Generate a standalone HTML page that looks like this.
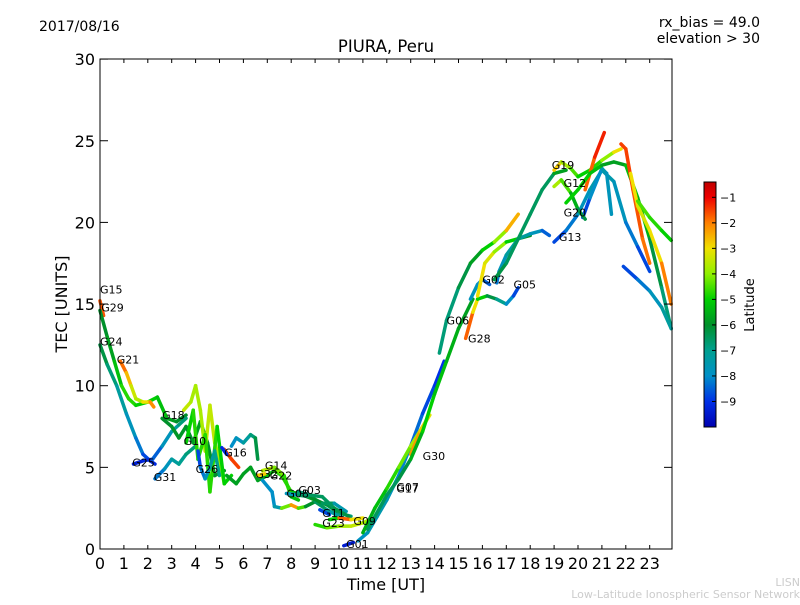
<!DOCTYPE html>
<html><head><meta charset="utf-8"><style>
body{margin:0;background:#fff;width:800px;height:600px;overflow:hidden;font-family:"Liberation Sans","DejaVu Sans",sans-serif}
svg text{font-family:"DejaVu Sans","Liberation Sans",sans-serif}
</style></head><body>
<svg id="c" width="800" height="600">
<defs><linearGradient id="jet" x1="0" y1="1" x2="0" y2="0"></linearGradient></defs>
<text x="39" y="31" font-size="14">2017/08/16</text>
<text x="760" y="27" font-size="14" text-anchor="end">rx_bias = 49.0</text>
<text x="760" y="43" font-size="14" text-anchor="end">elevation &gt; 30</text>
<text x="386" y="52" font-size="16.5" text-anchor="middle">PIURA, Peru</text>
<g id="marks"></g>
<g id="axes"></g>
<text x="386" y="590" font-size="16" text-anchor="middle">Time [UT]</text>
<text transform="translate(67,304) rotate(-90)" font-size="16" text-anchor="middle">TEC [UNITS]</text>
<rect x="704" y="182" width="12" height="245" fill="url(#jet)" stroke="#000" stroke-width="1"/>
<g id="cbt"></g>
<text transform="translate(754,305) rotate(-90)" font-size="13" text-anchor="middle">Latitude</text>
<text x="800" y="586" font-size="11" fill="#ccc" text-anchor="end">LISN</text>
<text x="800" y="598" font-size="11" fill="#ccc" text-anchor="end">Low-Latitude Ionospheric Sensor Network</text>
</svg>
<script>
const xTicks=[0,1,2,3,4,5,6,7,8,9,10,11,12,13,14,15,16,17,18,19,20,21,22,23];
const yTicks=[0,5,10,15,20,25,30];
const cbTicks=[-1,-2,-3,-4,-5,-6,-7,-8,-9];
const tracks=[
[[0,15.2,-1.5],[0.15,14.3,-1.8]],
[[0,14.6,-6],[0.3,13,-6],[0.6,11.5,-5.5],[0.9,10,-5],[1.2,9.2,-4.5],[1.5,8.8,-5],[2,9.0,-5],[2.4,9.3,-5],[2.8,8,-5.5],[3.2,7.8,-6],[3.6,8.2,-6]],
[[0,12.5,-6],[0.3,11.3,-6.5],[0.7,10,-7],[1.1,8.3,-7.5],[1.5,6.8,-8],[1.8,5.8,-8.5],[2.1,5.4,-9],[2.3,5.2,-9.3]],
[[1.4,5.2,-9.5],[1.8,5.4,-9.3],[2.2,5.5,-9],[2.6,6.3,-8],[3,7.2,-7.5],[3.3,7.6,-7],[3.6,8.0,-6.5]],
[[0.85,11.5,-1.5],[1.1,10.8,-2.2],[1.3,10,-3],[1.5,9.2,-3.8],[1.8,9.0,-3.5],[2.1,9.0,-2.5],[2.25,8.7,-1.8]],
[[2.3,4.3,-8.5],[2.7,4.9,-8],[3,5.5,-7.5],[3.3,5.2,-7],[3.6,5.8,-7],[4,6.3,-6.5]],
[[2.6,8.0,-6],[3,7.5,-6],[3.3,6.8,-5.8],[3.6,7.5,-6],[3.9,6.5,-6],[4.2,7.8,-5.5],[4.5,6.5,-6],[4.8,4.5,-6],[5.2,4.8,-6]],
[[3.5,8.5,-3.5],[3.8,9,-3.5],[4,10,-4],[4.2,8.5,-3.5],[4.4,6,-4],[4.6,8.8,-3],[4.8,6.5,-4],[5,5.5,-3.5],[5.2,4,-4.5]],
[[3.6,6.5,-5],[3.9,8.5,-5],[4.1,5.5,-4.5],[4.4,7,-5],[4.6,3.5,-4.5],[4.9,7.5,-5],[5.2,4,-5],[5.5,4.5,-5]],
[[4.1,6.0,-9],[4.2,5,-8.5],[4.4,4.3,-8],[4.6,5,-7.5],[4.8,6,-7],[5,4.5,-7]],
[[5.2,6.1,-1.5],[5.5,5.5,-1.5],[5.8,5.0,-1.5]],
[[5.1,6.2,-9.2],[5.3,5.8,-9]],
[[5.5,6.3,-8],[5.7,6.8,-8],[6,6.5,-7.5],[6.3,7,-7],[6.5,6.8,-6.5],[6.6,5.5,-6]],
[[5.3,4.5,-6],[5.7,4.0,-5.5],[6,4.6,-6],[6.3,5.0,-5.5],[6.6,4.2,-6],[7,4.5,-5.5],[7.3,4.8,-5],[7.6,4.5,-4.5],[8,3.5,-5],[8.5,3.3,-5.5],[9,3.0,-6],[9.5,2.7,-6],[10,2.2,-6.5],[10.5,2.0,-7]],
[[6.8,4.8,-3.5],[7.3,5.0,-3.8],[7.7,4.5,-4.5],[8,3.2,-5],[8.3,3.0,-5.5]],
[[6.6,4.5,-2.5],[6.9,4.6,-3]],
[[6.8,4.2,-8],[7.2,3.5,-8],[7.3,2.6,-8],[7.6,2.5,-7],[8,2.7,-1.5],[8.3,2.5,-3],[8.6,2.6,-6],[9,2.9,-6],[9.5,2.4,-7],[10,2.0,-7.5]],
[[7.8,3.4,-8.5],[8.3,3.3,-7],[8.8,3.2,-6],[9.3,2.8,-6],[9.8,2.8,-7],[10.3,2.3,-8]],
[[8.3,3.5,-7],[8.8,3.3,-6.5],[9.3,3.2,-6.5],[9.8,2.5,-6.5],[10.4,2.0,-6]],
[[9,1.5,-5],[9.5,1.3,-4.5],[10,1.4,-4],[10.5,1.4,-3.5],[11,1.6,-3.5],[11.3,1.8,-4]],
[[9.6,1.8,-8.5],[10,1.9,-1.5],[10.5,1.8,-2],[11,1.9,-4]],
[[9.2,2.4,-8.5],[9.6,2.1,-9]],
[[10.2,0.2,-9.5],[10.6,0.4,-9.3]],
[[10.8,0.5,-8],[11.2,1.0,-7.8],[11.6,2.0,-7.5],[12,3.0,-7.5],[12.5,4.5,-8],[13,6.3,-8.3],[13.5,8.3,-8.5],[14,10,-9],[14.4,11.5,-9]],
[[11,1.0,-5.5],[11.5,2.5,-5.5],[12,3.7,-5],[12.5,5.0,-4.5],[13,6.3,-4],[13.5,7.5,-3.5],[13.8,8.2,-3]],
[[13,5.8,-2],[13.4,7.2,-2.5],[13.7,8,-3]],
[[11.2,1.2,-6.5],[12,3.3,-6.5],[12.5,4.3,-6.5],[13,5.5,-6],[13.5,7.2,-5],[14,9.5,-5],[14.5,11.5,-5.5],[15,13.5,-5.5],[15.6,15.3,-6]],
[[15.3,12.9,-1.5],[15.6,14.5,-2],[15.8,15.3,-4],[16.2,15.5,-6],[16.6,15.3,-6.5],[17,15,-7.5],[17.3,15.5,-8.5],[17.5,16,-9]],
[[14.2,12,-6.5],[14.5,14,-7],[15,16,-6.5],[15.5,17.5,-6],[16,18.3,-5.5],[16.5,18.8,-4.5],[17,19.5,-3.5],[17.5,20.5,-1.5]],
[[15.5,15.3,-7.5],[15.8,16.2,-8],[16,16.5,-8],[16.3,16.2,-9]],
[[15.8,15.5,-3],[16.1,17.5,-3],[16.5,18.2,-3.5],[17,18.8,-4.5],[17.5,19,-5.5],[18,19.2,-6.5]],
[[16.6,16.3,-8.5],[16.7,17,-8],[17,18,-7.5],[17.5,19,-7],[18,19.3,-7.5],[18.5,19.5,-8],[18.8,19.2,-9]],
[[16.5,16.5,-6],[17,17.5,-6.5],[17.5,19,-6.5],[18,20.5,-6.5],[18.5,22,-6.5],[19,23,-6.5],[19.5,23.2,-5]],
[[19,18.8,-9],[19.5,19.5,-8.5],[20,20.5,-8],[20.5,22,-7.5],[21,23.2,-7.5],[21.5,22.5,-7.5],[22,20,-8],[22.5,18.5,-8.5],[23,17,-9]],
[[20.2,20.3,-9],[20.5,21.5,-8.5],[21,23.3,-7.5],[21.2,23,-7.5],[21.4,20.5,-8]],
[[19,23.2,-2],[19.3,23.7,-3.5],[19.7,23.3,-4],[20,22.8,-5],[20.5,23.2,-5],[21,23.8,-4.5],[21.5,24.3,-3.5],[21.8,24.5,-2.5]],
[[19,22.2,-3.5],[19.3,22.6,-4],[19.7,21.8,-5],[20,20.8,-6],[20.3,20.2,-6.5]],
[[20.3,22,-2],[20.7,24,-1.5],[21.1,25.5,-1]],
[[19.5,21.2,-5],[20,22,-5],[20.5,23,-5],[21,23.5,-5.5],[21.5,23.7,-6],[22,23.5,-5.5],[22.5,21.5,-5],[23,19,-6],[23.5,16,-6.5],[23.9,13.5,-7]],
[[21.8,24.8,-1.5],[22,24.5,-1.5],[22.3,22,-1.5],[22.7,19,-1.8],[23,17.5,-2]],
[[22.2,23,-3],[22.5,21,-3],[23,19.5,-3.5],[23.5,17.5,-2.5],[23.9,15,-1.5]],
[[22.5,21.3,-4.5],[23,20.3,-4.5],[23.5,19.5,-5],[23.9,18.9,-5]],
[[21.9,17.3,-9],[22.5,16.5,-8.5],[23,15.8,-8],[23.5,14.8,-7.5],[23.9,13.5,-7]]
];
const satNames=["G15","G29","G24","G21","G18","G10","G25","G31","G26","G16","G14","G32","G22","G08","G03","G11","G23","G09","G01","G07","G17","G30","G06","G28","G02","G05","G19","G12","G20","G13"];
const satT=[0,0.05,0,0.7,2.6,3.5,1.35,2.25,4,5.2,6.9,6.5,7.1,7.8,8.3,9.3,9.3,10.6,10.3,12.4,12.4,13.5,14.5,15.4,16,17.3,18.9,19.4,19.4,19.2];
const satV=[15.9,14.8,12.7,11.6,8.2,6.6,5.3,4.4,4.9,5.9,5.1,4.6,4.5,3.4,3.6,2.2,1.6,1.7,0.3,3.8,3.7,5.7,14,12.9,16.5,16.2,23.5,22.4,20.6,19.1];
const X=t=>100+t*23.9, Y=v=>549-v*16.33;
const cmap=[[-10,[0,0,176]],[-9,[0,48,230]],[-8,[0,144,200]],[-7,[0,160,144]],[-6,[0,144,42]],[-5,[0,208,0]],[-4,[144,240,0]],[-3,[240,224,0]],[-2,[255,128,0]],[-1,[238,0,0]],[-0.4,[192,0,0]]];
function col(c){return `rgb(${c.map(Math.round).join(',')})`;}
function jet(lat){
  if(lat<=cmap[0][0])return col(cmap[0][1]);
  for(let i=0;i<cmap.length-1;i++){const a=cmap[i],b=cmap[i+1];
    if(lat<=b[0]){const f=(lat-a[0])/(b[0]-a[0]);return col(a[1].map((v,k)=>v+(b[1][k]-v)*f));}}
  return col(cmap[cmap.length-1][1]);
}
const NS="http://www.w3.org/2000/svg";
function mk(tag,attrs,parent){const e=document.createElementNS(NS,tag);for(const k in attrs)e.setAttribute(k,attrs[k]);parent.appendChild(e);return e;}
const grad=document.getElementById('jet');
cmap.forEach(s=>{mk('stop',{offset:(s[0]+10)/9.6,'stop-color':col(s[1])},grad);});
const marks=document.getElementById('marks');
tracks.forEach((tr,i)=>{
  const g=mk('g',{},marks);
  
  
  for(let j=0;j<tr.length-1;j++){
    const a=tr[j],b=tr[j+1];
    const l=mk('line',{x1:X(a[0]),y1:Y(a[1]),x2:X(b[0]),y2:Y(b[1]),stroke:jet((a[2]+b[2])/2),'stroke-width':3.5,'stroke-linecap':'round'},g);
    
    
  }
});
satNames.forEach((n,i)=>{
  const t=mk('text',{x:X(satT[i]),y:Y(satV[i])+4,'font-size':11},marks);
  t.textContent=n;
  
  
});
const ax=document.getElementById('axes');
const fr=mk('rect',{x:100,y:59,width:572,height:490,fill:'none',stroke:'#000','stroke-width':1},ax);


xTicks.forEach(t=>{
  mk('line',{x1:X(t),x2:X(t),y1:549,y2:545,stroke:'#000'},ax);
  mk('line',{x1:X(t),x2:X(t),y1:59,y2:63,stroke:'#000'},ax);
  const tx=mk('text',{x:X(t),y:569,'font-size':16,'text-anchor':'middle'},ax);
  tx.textContent=t;
  
  
});
yTicks.forEach(v=>{
  mk('line',{x1:100,x2:108,y1:Y(v),y2:Y(v),stroke:'#000'},ax);
  mk('line',{x1:664,x2:672,y1:Y(v),y2:Y(v),stroke:'#000'},ax);
  const tx=mk('text',{x:95,y:Y(v)+6,'font-size':16,'text-anchor':'end'},ax);
  tx.textContent=v;
  
  
});
const cb=document.getElementById('cbt');
cbTicks.forEach(v=>{
  const y=182+(-0.4-v)/9.6*245;
  mk('line',{x1:712,x2:716,y1:y,y2:y,stroke:'#000'},cb);
  const tx=mk('text',{x:720,y:y+4,'font-size':11},cb);
  tx.textContent='\u2212'+(-v);
  
  
});
</script>
</body></html>
